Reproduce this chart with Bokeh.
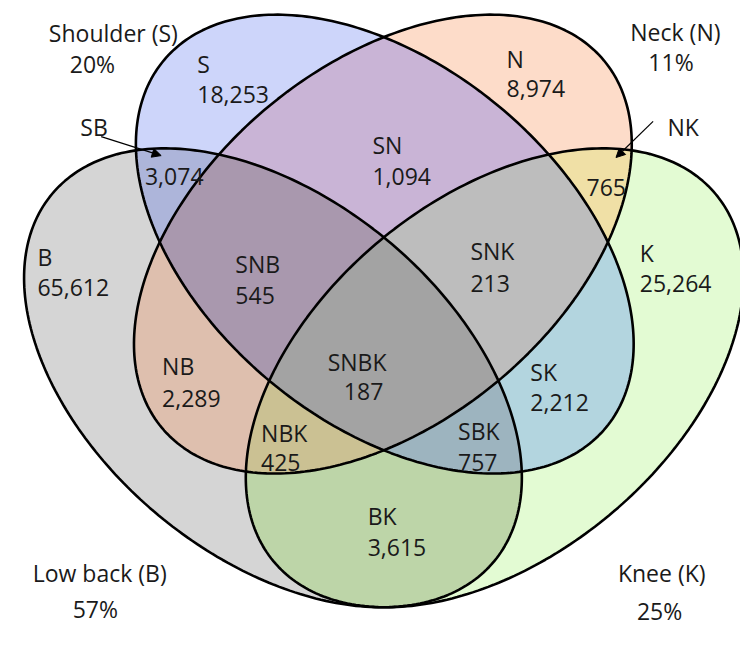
import math
from bokeh.plotting import figure
from bokeh.models import Range1d, Arrow, NormalHead, ColumnDataSource
from bokeh.core.properties import value
from bokeh.embed import file_html
from bokeh.resources import INLINE

# ---------------- data ----------------
set_names = ["Shoulder (S)", "Neck (N)", "Low back (B)", "Knee (K)"]
set_pct = [20, 11, 57, 25]
region_names = ["S", "N", "B", "K", "SN", "SB", "SK", "NB", "NK", "BK",
                "SNB", "SNK", "SBK", "NBK", "SNBK"]
region_counts = [18253, 8974, 65612, 25264, 1094, 3074, 2212, 2289, 765, 3615,
                 545, 213, 757, 425, 187]

# ---------------- layout (pixel-like coordinates, y up) ----------------
H = 645
ell = {  # cx, cy, semi-major, semi-minor, angle(deg)
    "S": (393, H - 256, 302, 188, -39.7),
    "N": (391, H - 256, 302, 188, 39.7),
    "B": (275.5, H - 396.5, 302, 188, -39.7),
    "K": (508.5, H - 396.5, 302, 188, 39.7),
}
region_colors = {
    "S": "#CDD5FA", "N": "#FDDCC9", "B": "#D5D5D5", "K": "#E3FBD3",
    "SN": "#C9B4D6", "SB": "#ADB5DA", "SK": "#B3D5DF", "NB": "#DEBFAE",
    "NK": "#F0E0A6", "BK": "#BDD5A8", "SNB": "#A998AE", "SNK": "#BDBDBD",
    "SBK": "#9DB4BF", "NBK": "#CBC193", "SNBK": "#A3A3A3",
}
# label anchor: left x, baseline y (image coords) for name and count lines
label_pos = {
    "S": (196, 67, 196, 99), "N": (521, 62, 521, 93), "B": (28, 270, 28, 302),
    "K": (661, 265, 661, 297), "SN": (380, 152, 380, 185), "SB": (73, 133, 141, 185),
    "SK": (546, 390, 546, 422), "NB": (159, 384, 159, 418), "NK": (690, 133, 605, 196),
    "BK": (375, 542, 375, 575), "SNB": (236, 277, 236, 310), "SNK": (483, 263, 483, 297),
    "SBK": (470, 452, 470, 485), "NBK": (263, 454, 263, 485), "SNBK": (333, 380, 350, 411),
}
set_label_pos = [(40, 34, 62, 67), (651, 33, 670, 65), (23, 602, 65, 639), (638, 602, 658, 642)]


def ellipse_pts(cx, cy, a, b, ang, n=300):
    t0 = math.radians(ang)
    c, s = math.cos(t0), math.sin(t0)
    pts = []
    for i in range(n):
        t = 2 * math.pi * i / n
        x = a * math.cos(t)
        y = b * math.sin(t)
        pts.append((cx + x * c - y * s, cy + x * s + y * c))
    return pts


def clip(subject, clipper):
    out = subject
    m = len(clipper)
    for i in range(m):
        if not out:
            break
        a = clipper[i]
        b = clipper[(i + 1) % m]
        inp = out
        out = []

        def inside(p):
            return (b[0] - a[0]) * (p[1] - a[1]) - (b[1] - a[1]) * (p[0] - a[0]) >= 0

        def inter(p, q):
            x1, y1 = p; x2, y2 = q; x3, y3 = a; x4, y4 = b
            den = (x1 - x2) * (y3 - y4) - (y1 - y2) * (x3 - x4)
            if den == 0:
                return q
            t = ((x1 - x3) * (y3 - y4) - (y1 - y3) * (x3 - x4)) / den
            return (x1 + t * (x2 - x1), y1 + t * (y2 - y1))

        for j in range(len(inp)):
            cur = inp[j]
            prev = inp[j - 1]
            if inside(cur):
                if not inside(prev):
                    out.append(inter(prev, cur))
                out.append(cur)
            elif inside(prev):
                out.append(inter(prev, cur))
    return out


polys = {k: ellipse_pts(*v) for k, v in ell.items()}

# painter's order: by number of sets
order = sorted(region_names, key=len)
xs, ys, cols = [], [], []
for name in order:
    poly = polys[name[0]]
    for ch in name[1:]:
        poly = clip(poly, polys[ch])
    if poly:
        xs.append([p[0] for p in poly])
        ys.append([p[1] for p in poly])
        cols.append(region_colors[name])

W, HH = 740, 629
YLO = -16
sc = HH / (H - YLO)
xspan = W / sc
x0 = (756 - xspan) / 2

p = figure(width=W, height=HH, x_range=Range1d(x0, x0 + xspan), y_range=Range1d(YLO, H),
           output_backend="svg", toolbar_location=None, min_border=0)
p.axis.visible = False
p.grid.visible = False
p.outline_line_color = None
p.background_fill_color = "white"
p.border_fill_color = "white"

p.patches(xs=xs, ys=ys, fill_color=cols, line_color=None)

ox, oy = [], []
for k in ["S", "N", "B", "K"]:
    pts = polys[k] + [polys[k][0]]
    ox.append([q[0] for q in pts])
    oy.append([q[1] for q in pts])
p.multi_line(xs=ox, ys=oy, line_color="black", line_width=2.6)

# region labels
tx, ty, tt = [], [], []
for name, cnt in zip(region_names, region_counts):
    x1, y1, x2, y2 = label_pos[name]
    tx += [x1, x2]
    ty += [H - y1, H - y2]
    tt += [name, f"{cnt:,}"]
for nm, pc, (x1, y1, x2, y2) in zip(set_names, set_pct, set_label_pos):
    tx += [x1, x2]
    ty += [H - y1, H - y2]
    tt += [nm, f"{pc}%"]

src = ColumnDataSource(dict(x=tx, y=ty, t=tt))
p.text(x="x", y="y", text="t", source=src, text_font=value("Open Sans"),
       text_font_size="23px", text_color="#1a1a1a", text_align="left",
       text_baseline="alphabetic")

p.add_layout(Arrow(end=NormalHead(size=9, fill_color="black", line_color="black"),
                   x_start=95, y_start=H - 143, x_end=158, y_end=H - 163,
                   line_width=1.2, line_color="black"))
p.add_layout(Arrow(end=NormalHead(size=9, fill_color="black", line_color="black"),
                   x_start=675, y_start=H - 127, x_end=636, y_end=H - 165,
                   line_width=1.2, line_color="black"))

open("out.html", "w").write(file_html(p, INLINE))
